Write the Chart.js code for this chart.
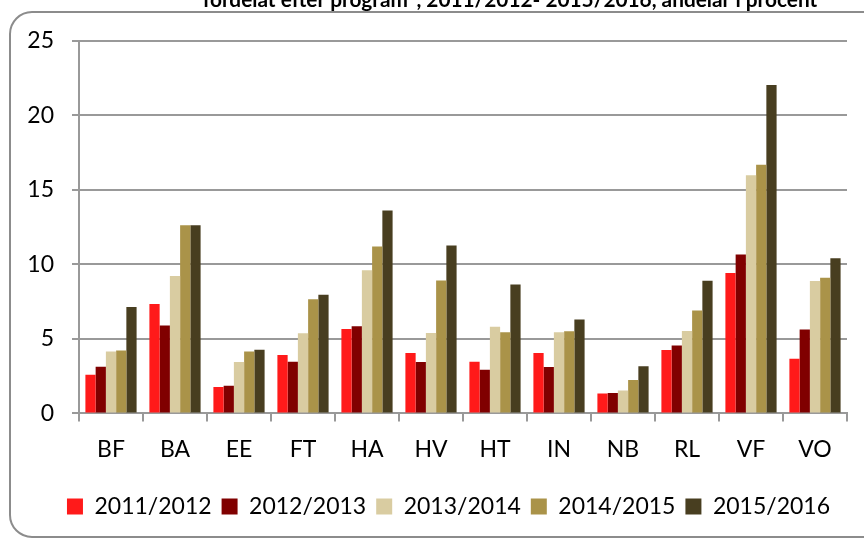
<!DOCTYPE html>
<html>
<head>
<meta charset="utf-8">
<script src="https://cdn.jsdelivr.net/npm/chart.js@4.4.0/dist/chart.umd.min.js"></script>
<style>
  html, body { margin: 0; padding: 0; background: #fff; }
</style>
</head>
<body>
<canvas id="c" width="864" height="539"></canvas>
<script>
const programs = ['BF', 'BA', 'EE', 'FT', 'HA', 'HV', 'HT', 'IN', 'NB', 'RL', 'VF', 'VO'];
const years = ['2011/2012', '2012/2013', '2013/2014', '2014/2015', '2015/2016'];
const y2011 = [2.6, 7.35, 1.77, 3.92, 5.67, 4.05, 3.47, 4.05, 1.33, 4.26, 9.43, 3.67];
const y2012 = [3.14, 5.9, 1.86, 3.47, 5.85, 3.45, 2.93, 3.11, 1.37, 4.55, 10.66, 5.63];
const y2013 = [4.15, 9.23, 3.45, 5.38, 9.61, 5.4, 5.82, 5.44, 1.53, 5.54, 15.99, 8.88];
const y2014 = [4.23, 12.63, 4.15, 7.66, 11.2, 8.92, 5.44, 5.51, 2.25, 6.9, 16.69, 9.1];
const y2015 = [7.14, 12.63, 4.28, 7.97, 13.62, 11.27, 8.65, 6.3, 3.17, 8.9, 22.05, 10.42];
const titleText = 'fördelat efter program*, 2011/2012- 2015/2016, andelar i procent';

const colors = ['#ff1a1a', '#800000', '#d9cca1', '#aa9349', '#483e20'];
const series = [y2011, y2012, y2013, y2014, y2015];

// frame + cut-off title, legend nudged right
const frame = {
  id: 'frame',
  afterLayout(chart) {
    chart.legend.left += 20;
    chart.legend.right += 20;
  },
  beforeDraw(chart) {
    const ctx = chart.ctx;
    ctx.save();
    ctx.strokeStyle = '#8c8c8c';
    ctx.lineWidth = 2;
    ctx.beginPath();
    ctx.roundRect(10, 12, 874, 525, 22);
    ctx.stroke();
    ctx.fillStyle = '#000';
    ctx.font = 'bold 18px Lato';
    let w = ctx.measureText(titleText).width;
    let size = 18 * 615 / w;
    ctx.font = 'bold ' + size + 'px Lato';
    ctx.textAlign = 'center';
    ctx.textBaseline = 'alphabetic';
    ctx.fillText(titleText, 510, 7);
    ctx.restore();
  }
};

Chart.defaults.font.family = 'Lato';
Chart.defaults.color = '#000';

new Chart(document.getElementById('c'), {
  type: 'bar',
  data: {
    labels: programs,
    datasets: series.map((d, i) => ({
      label: years[i],
      data: d,
      backgroundColor: colors[i],
      borderWidth: 0,
      categoryPercentage: 0.8,
      barPercentage: 1.0
    }))
  },
  options: {
    responsive: false,
    animation: false,
    devicePixelRatio: 1,
    layout: { padding: { left: 10, right: 17, top: 41, bottom: 11 } },
    plugins: {
      tooltip: { enabled: false },
      legend: {
        position: 'bottom',
        labels: {
          boxWidth: 16,
          boxHeight: 16,
          padding: 10,
          font: { size: 23 }
        }
      }
    },
    scales: {
      x: {
        afterFit(s) { s.height += 8; },
        grid: { drawOnChartArea: false, tickLength: 8, color: '#999', lineWidth: 2 },
        border: { color: '#999', width: 2 },
        ticks: { font: { size: 23 }, padding: 14 }
      },
      y: {
        min: 0,
        max: 25,
        afterFit(s) { s.width = 69; },
        grid: { color: '#999', lineWidth: 2, tickLength: 7 },
        border: { color: '#999', width: 2 },
        ticks: { stepSize: 5, font: { size: 23 }, padding: 18 }
      }
    }
  },
  plugins: [frame]
});
</script>
</body>
</html>
